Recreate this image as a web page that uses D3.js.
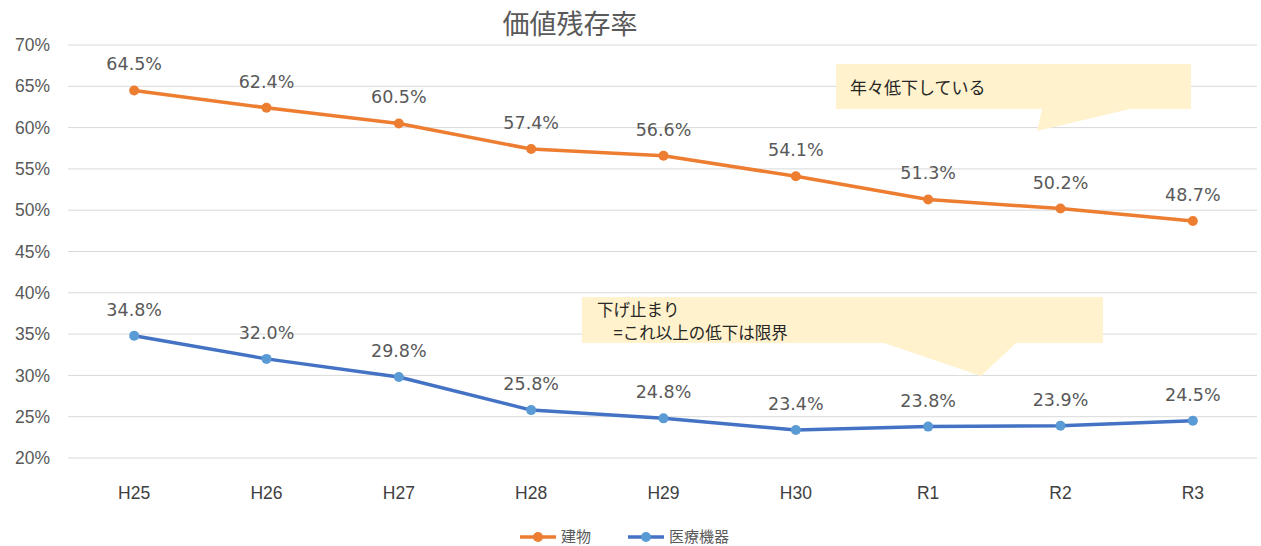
<!DOCTYPE html>
<html>
<head>
<meta charset="utf-8">
<script src="https://cdn.jsdelivr.net/npm/d3@7"></script>
<style>
  body { margin: 0; background: #fff; }
  svg { font-family: "DejaVu Sans", "Noto Sans CJK JP", sans-serif; }
  .grid line { stroke: #d9d9d9; stroke-width: 1; }
  .axis text { fill: #595959; font-size: 17.5px; }
</style>
</head>
<body>
<svg width="1261" height="546"></svg>
<script>
// Data
const years = ["H25", "H26", "H27", "H28", "H29", "H30", "R1", "R2", "R3"];
const building = [64.5, 62.4, 60.5, 57.4, 56.6, 54.1, 51.3, 50.2, 48.7];
const medical = [34.8, 32.0, 29.8, 25.8, 24.8, 23.4, 23.8, 23.9, 24.5];
const yTicks = [20, 25, 30, 35, 40, 45, 50, 55, 60, 65, 70];

const series = [
    { name: "建物", values: building, line: "#ED7D31", marker: "#ED7D31" },
    { name: "医療機器", values: medical, line: "#4472C4", marker: "#5B9BD5" }
];

// Dimensions
const margin = { top: 45, right: 2, bottom: 88, left: 68 };
const width = 1261 - margin.left - margin.right;
const height = 546 - margin.top - margin.bottom;

const svg = d3.select("svg")
    .append("g")
    .attr("transform", `translate(${margin.left}, ${margin.top})`);

// Scales
const xScale = d3.scaleBand()
    .domain(years)
    .range([0, width]);

const yScale = d3.scaleLinear()
    .domain([20, 70])
    .range([height, 0]);

const cx = d => xScale(d) + xScale.bandwidth() / 2;

// Gridlines
svg.append("g")
    .attr("class", "grid")
    .selectAll("line")
    .data(yTicks)
    .join("line")
    .attr("x1", 0)
    .attr("x2", width - 2)
    .attr("y1", d => yScale(d))
    .attr("y2", d => yScale(d));

// Y axis
const yAxis = svg.append("g")
    .attr("class", "axis")
    .attr("transform", "translate(-15,0)")
    .call(d3.axisLeft(yScale).tickValues(yTicks).tickFormat(d => d + "%").tickSize(0));
yAxis.select(".domain").remove();

// X axis
const xAxis = svg.append("g")
    .attr("class", "axis")
    .attr("transform", `translate(0, ${height + 26})`)
    .call(d3.axisBottom(xScale).tickSize(0));
xAxis.select(".domain").remove();
xAxis.selectAll("text").style("fill", "#404040");

// Callouts
const callouts = [
    {
        pts: [[836, 64], [1191, 64], [1191, 109], [1130, 109], [1037, 131], [1042, 109], [836, 109]],
        lines: [{ text: "年々低下している", x: 850, y: 94 }]
    },
    {
        pts: [[582, 297], [1103, 297], [1103, 343], [1016, 343], [981, 376], [884, 343], [582, 343]],
        lines: [
            { text: "下げ止まり", x: 597, y: 316 },
            { text: "　=これ以上の低下は限界", x: 597, y: 339 }
        ]
    }
];

const root = d3.select("svg");
callouts.forEach(c => {
    root.append("polygon")
        .attr("points", c.pts.map(p => p.join(",")).join(" "))
        .attr("fill", "#FFF2CC");
    c.lines.forEach(l => {
        root.append("text")
            .attr("x", l.x)
            .attr("y", l.y)
            .attr("fill", "#262626")
            .style("font-family", "'Noto Sans CJK JP', sans-serif")
            .style("font-size", c.lines.length > 1 ? "16.5px" : "17px")
            .text(l.text);
    });
});

// Lines
const line = d3.line()
    .x((d, i) => cx(years[i]))
    .y(d => yScale(d));

series.forEach(s => {
    svg.append("path")
        .datum(s.values)
        .attr("fill", "none")
        .attr("stroke", s.line)
        .attr("stroke-width", 3.5)
        .attr("stroke-linejoin", "round")
        .attr("d", line);

    svg.selectAll(null)
        .data(s.values)
        .join("circle")
        .attr("cx", (d, i) => cx(years[i]))
        .attr("cy", d => yScale(d))
        .attr("r", 5)
        .attr("fill", s.marker);

    svg.selectAll(null)
        .data(s.values)
        .join("text")
        .attr("x", (d, i) => cx(years[i]))
        .attr("y", d => yScale(d) - 20)
        .attr("text-anchor", "middle")
        .attr("fill", "#595959")
        .style("font-size", "17.5px")
        .text(d => d.toFixed(1) + "%");
});

// Title
root.append("text")
    .attr("x", 570)
    .attr("y", 34)
    .attr("text-anchor", "middle")
    .attr("fill", "#595959")
    .style("font-family", "'Noto Sans CJK JP', sans-serif")
    .style("font-size", "27px")
    .text("価値残存率");

// Legend
const legend = root.append("g").attr("transform", "translate(520, 537)");
let lx = 0;
series.forEach(s => {
    const g = legend.append("g").attr("transform", `translate(${lx}, 0)`);
    g.append("line")
        .attr("x1", 0).attr("x2", 36)
        .attr("stroke", s.line).attr("stroke-width", 3.5);
    g.append("circle").attr("cx", 18).attr("r", 5).attr("fill", s.marker);
    g.append("text")
        .attr("x", 41).attr("y", 5)
        .attr("fill", "#595959")
        .style("font-family", "'Noto Sans CJK JP', sans-serif")
        .style("font-size", "15px")
        .text(s.name);
    lx += 108;
});
</script>
</body>
</html>
